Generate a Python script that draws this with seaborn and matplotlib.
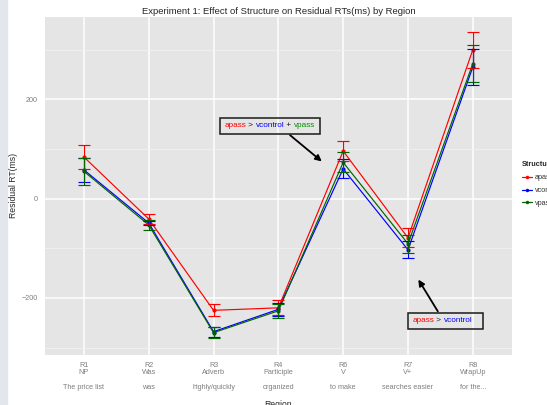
import matplotlib
matplotlib.use("Agg")
import matplotlib.pyplot as plt
from matplotlib.lines import Line2D
from matplotlib.patches import Rectangle
from matplotlib.transforms import Bbox
from matplotlib.ticker import MultipleLocator
import numpy as np
import pandas as pd
import seaborn as sns

# region labels
region_codes = ["R1", "R2", "R3", "R4", "R6", "R7", "R8"]
region_names = ["NP", "Was", "Adverb", "Participle", "V", "V+", "WrapUp"]
region_words = ["The price list", "was", "highly/quickly", "organized",
                "to make", "searches easier", "for the..."]

structures = ["apass", "vcontrol", "vpass"]
colors = {"apass": "#ff0000", "vcontrol": "#0000ff", "vpass": "#006400"}

# residual RT means and standard errors (ms)
apass_mean = [84, -41, -225, -220, 96, -79, 300]
apass_se = [25, 10, 12, 15, 21, 19, 36]
vcontrol_mean = [58, -49, -268, -223, 60, -103, 265]
vcontrol_se = [24, 4, 10, 13, 19, 17, 36]
vpass_mean = [55, -53, -270, -226, 73, -91, 272]
vpass_se = [27, 10, 11, 14, 20, 18, 37]

labels = ["%s\n%s\n\n%s" % (c, n, w) for c, n, w in zip(region_codes, region_names, region_words)]

df = pd.DataFrame({
    "Region": labels * 3,
    "RT": apass_mean + vcontrol_mean + vpass_mean,
    "se": apass_se + vcontrol_se + vpass_se,
    "Structure": np.repeat(structures, len(labels)),
})

sns.set_theme(style="darkgrid", rc={
    "axes.facecolor": "#e5e5e5",
    "grid.color": "white",
    "figure.facecolor": "white",
})
plt.rcParams['font.family'] = ['Liberation Sans', 'DejaVu Sans']

fig = plt.figure(figsize=(5.47, 4.05), dpi=100)
fig.patches.append(Rectangle((0, 0), 7 / 547, 1, transform=fig.transFigure,
                             color="#e4e6ee", zorder=-5))
ax = fig.add_axes([45 / 547, 1 - 355 / 405, 466.7 / 547, 338.5 / 405])

sns.lineplot(data=df, x="Region", y="RT", hue="Structure", palette=colors,
             hue_order=structures, sort=False, marker="o", markersize=3,
             markeredgewidth=0, linewidth=0.85, legend=False, ax=ax)

for s in structures:
    sub = df[df["Structure"] == s]
    ax.errorbar(sub["Region"], sub["RT"], yerr=sub["se"], fmt="none",
                ecolor=colors[s], elinewidth=0.85, capsize=4.5, capthick=0.85)

ax.set_xlim(-0.6, 6.6)
ax.set_ylim(-315, 367)
ax.set_yticks([-200, 0, 200])
ax.set_yticklabels(["\u2212200", "0", "200"])
ax.yaxis.set_minor_locator(MultipleLocator(100))
ax.grid(which="major", color="white", linewidth=1.1)
ax.grid(which="minor", axis="y", color="#f2f2f2", linewidth=0.6)
ax.tick_params(which="minor", length=0)
ax.tick_params(which="major", length=3, width=0.6, color="#7f7f7f",
               labelcolor="#7f7f7f", labelsize=5.2, pad=2)
for t in ax.get_xticklabels():
    t.set_linespacing(1.1)
for sp in ax.spines.values():
    sp.set_visible(False)

ax.set_xlabel("Region", fontsize=6.2, labelpad=6)
ax.set_ylabel("Residual RT(ms)", fontsize=6.2, labelpad=2.5)
ax.set_title("Experiment 1: Effect of Structure on Residual RTs(ms) by Region",
             fontsize=6.8, pad=2)


def color_text(x, y, parts, fs=5.9):
    pieces = []
    for p, c in parts:
        if not pieces:
            t = ax.text(x, y, p, color=c, fontsize=fs, ha="left", va="center")
        else:
            t = ax.annotate(p, xy=(1, 0), xycoords=pieces[-1], ha="left", va="bottom",
                            color=c, fontsize=fs)
        pieces.append(t)
    return pieces


boxes = [
    (color_text(2.17, 147, [("apass", "#ff0000"), (" > ", "#1a1a1a"), ("vcontrol", "#0000ff"),
                            (" + ", "#1a1a1a"), ("vpass", "#009000")]), 5),
    (color_text(5.07, -246, [("apass", "#ff0000"), (" > ", "#1a1a1a"), ("vcontrol", "#0000ff")]), 11),
]

arrow = dict(arrowstyle="-|>", color="black", lw=1.3, mutation_scale=9, shrinkA=0, shrinkB=0)
ax.annotate("", xy=(3.67, 75), xytext=(3.18, 128), arrowprops=arrow)
ax.annotate("", xy=(5.16, -163), xytext=(5.46, -227), arrowprops=arrow)

handles = [Line2D([], [], color=colors[s], marker="o", markersize=2.5, markeredgewidth=0,
                  lw=0.9) for s in structures]
leg = fig.legend(handles, structures, title="Structure", loc="upper left",
                 bbox_to_anchor=(515 / 547, 1 - 155 / 405), frameon=False,
                 fontsize=5.2, title_fontsize=5.2, handlelength=1.5, labelspacing=0.8,
                 handletextpad=0.4, alignment="left")
leg.get_title().set_fontweight("bold")
for t in leg.get_texts():
    t.set_color("#333333")

# frames round the coloured annotations
fig.canvas.draw()
renderer = fig.canvas.get_renderer()
inv = ax.transData.inverted()
for pieces, right_pad in boxes:
    bb = Bbox.union([t.get_window_extent(renderer) for t in pieces])
    x0, y0 = inv.transform((bb.x0 - 5, bb.y0 - 4.5))
    x1, y1 = inv.transform((bb.x1 + right_pad, bb.y1 + 4.5))
    ax.add_patch(Rectangle((x0, y0), x1 - x0, y1 - y0, fill=False,
                           edgecolor="#1a1a1a", linewidth=1.1, zorder=5))

fig.savefig("out.png", dpi=100)
